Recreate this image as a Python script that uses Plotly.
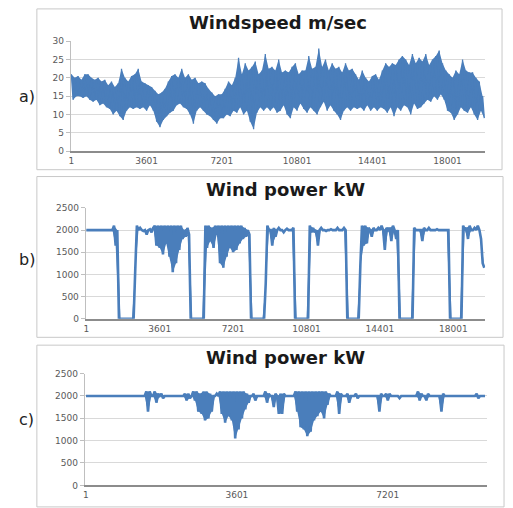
import plotly.graph_objects as go

W, H = 513, 508

# ---------------- data ----------------
# a) wind speed, one sample every 80 time steps (alternating peak / trough)
speed_step = 80
windspeed = [
    21, 14, 20, 15, 20.5, 15, 19.5, 14.5, 21, 15,
    21, 14, 20, 13.5, 19.5, 14, 20, 12.5, 19, 13,
    19.5, 12, 18, 11.5, 19, 10, 17.5, 11, 18.5, 9.5,
    22.5, 8.5, 20, 11, 19, 12, 20.5, 11.5, 21, 12,
    22.5, 11.5, 19, 12, 18.5, 11, 18, 12.5, 17.5, 11,
    16.5, 8, 15.5, 6.5, 16, 8.5, 17, 9.5, 19, 10.5,
    20.5, 11, 21, 12.5, 20, 13, 22.5, 12, 20, 11.5,
    21, 10, 19.5, 7.5, 20, 11, 18.5, 12, 19, 11,
    18.5, 10, 17, 9.5, 16, 8.5, 15, 7.5, 15.5, 9,
    15.5, 9, 17, 10, 19, 9.5, 18, 11, 20, 10.5,
    25.5, 12, 21, 10, 24, 11, 22, 8, 23, 6,
    24.5, 10.5, 21, 12, 22, 11, 26.5, 12, 22.5, 11,
    23, 12, 22, 10.5, 25, 11, 21.5, 12.5, 22, 10,
    21.5, 9, 23, 12, 24, 11, 21, 13, 22, 11.5,
    22, 10.5, 26, 12, 22.5, 11, 23, 10, 28, 12,
    23, 13.5, 25, 11, 22, 12.5, 24, 11, 22.5, 10,
    23, 8.5, 21.5, 11, 24, 12, 22, 11, 22.5, 12,
    21, 11.5, 19.5, 12, 22, 11, 20, 12.5, 19, 11,
    20.5, 12, 21, 11, 19.5, 12, 22, 11.5, 24, 10.5,
    23, 12, 24, 9.5, 23.5, 12, 25, 11, 26, 12.5,
    25, 12, 23.5, 10, 26.5, 13, 24, 11.5, 25.5, 12,
    24.5, 13, 26.5, 14, 23.5, 13.5, 25, 15, 26, 14,
    27.5, 15.5, 24, 14, 22, 11, 21, 10.5, 20, 8.5,
    22, 10, 21, 12, 25, 11, 22, 10.5, 21.5, 12,
    21.5, 10, 20, 8.5, 19, 11, 15, 9,
]

# b) wind power kW, one sample every 80 time steps
power_b_step = 80
power_b = [
    2000, 2000, 2000, 2000, 2000, 2000, 2000, 2000, 2000, 2000,
    2000, 2000, 2000, 2000, 2000, 2000, 2000,
    2100, 1650, 2000,
    0, 0, 0, 0, 0, 0, 0, 0, 0, 0,
    1100, 2100, 2000, 2050, 2000, 1980, 2000, 1900, 2000, 2020, 1950, 2050,
    2100, 1650, 2100, 1600, 2100, 1450, 2100, 1700, 2100, 1400,
    2100, 1050, 2100, 1250, 2100, 1550, 2100, 1800,
    2000, 1850, 2050, 1900,
    0, 0, 0, 0, 0, 0, 0, 0, 0,
    2100, 1600, 2100, 1750, 2050, 1600, 2100, 1900, 2100, 1250,
    2100, 1150, 2100, 1400, 2100, 1600, 2100, 1500, 2100, 1550,
    2100, 1700, 2100, 1800, 2050, 1850, 2000, 1900,
    0, 0, 0, 0, 0, 0, 0, 0, 0,
    800, 2100, 2000, 2000, 1650, 2050, 1850, 2000, 2050, 2000,
    2000, 1950, 2000, 2030, 2000, 2000, 2000, 2050,
    0, 0, 0, 0, 0, 0, 0, 0, 0,
    2100, 1950, 2050, 1950, 2000, 1650, 2000, 2050, 2000, 2000,
    1980, 2000, 2000, 2020, 2000, 2000, 2000, 2050, 2000, 2000,
    2000, 2050, 2000,
    0, 0, 0, 0, 0, 0, 0, 0,
    1200, 2100, 1650, 2100, 1700, 2050, 2000, 1850, 2050, 2000,
    2000, 2050, 2000, 2100, 2000, 1550, 2050, 2000, 2050, 1750,
    2100, 2000, 1800, 2000,
    0, 0, 0, 0, 0, 0, 0, 0, 0,
    2050, 2000, 2000, 2000, 2000, 1750, 2050, 2000, 2000, 2050,
    2000, 2000, 2000, 2000, 2020, 2000, 2000, 2000, 2000, 2000,
    2000, 2000,
    0, 0, 0, 0, 0, 0, 0, 0,
    2100, 2000, 2050, 1800, 2100, 2000, 2000, 2050, 2000, 2100,
    2000, 1800, 1250, 1150,
]

# c) wind power kW, one sample every 40 time steps
power_c_step = 40
power_c = [
    2000, 2000, 2000, 2000, 2000, 2000, 2000, 2000, 2000, 2000,
    2000, 2000, 2000, 2000, 2000, 2000, 2000, 2000, 2000, 2000,
    2000, 2000, 2000, 2000, 2000, 2000, 2000, 2000, 2000, 2000,
    2000, 2000, 2000, 2000, 2000, 2000,
    2100, 1650, 2100, 2000, 2000, 2100, 1850, 2050, 2000, 2050, 1950,
    2000, 2000, 2000, 2000, 2000, 2000, 2000, 2000, 2000, 2000, 2000, 2000,
    2050, 1900, 2050, 1950, 2000,
    2100, 1900, 2100, 1650, 2050,
    1600, 2100, 1450, 2100, 1500, 2050, 1650, 2000,
    2000, 2050, 2000,
    2100, 1600, 2100, 1400, 2100, 1550, 2100, 1450, 2100, 1050,
    2100, 1250, 2100, 1500, 2100, 1700, 2050, 1850,
    2000, 2000, 2050, 1900, 2000, 2000, 2000, 2000, 2000,
    2100, 1850, 2050, 2000, 2000,
    1750, 2050, 2000, 1600, 2050, 1600, 2050, 2000,
    2000, 2000, 2000, 2000, 2000,
    2100, 1650, 2100, 1300, 2100, 1250, 2100, 1100, 2100, 1200,
    2100, 1450, 2100, 1550, 2100, 1650, 2100, 1500, 2100, 1800, 2050,
    2000, 2000, 2000, 2000,
    2100, 1600, 2050, 2000, 2000, 2000, 2050, 1850, 2000, 2000, 2000,
    2050, 1950,
    2000, 2000, 2000, 2000, 2000, 2000, 2000, 2000, 2000, 2000, 2000, 2000,
    1650, 2050, 2000, 2000, 2050, 1900, 2050,
    2000, 2000, 2000, 2000, 2000, 1950, 2000,
    2000, 2000, 2000, 2000, 2000, 2000, 2000, 2000, 2000,
    2100, 1900, 2050, 2000, 2000, 1900, 2050,
    2000, 2000, 2000, 2000, 2000, 2000, 2000,
    1650, 2050,
    2000, 2000, 2000, 2000, 2000, 2000, 2000, 2000, 2000, 2000,
    2000, 2000, 2000, 2000, 2000, 2000, 2000, 2000, 2000,
    2050, 1950, 2000, 2000, 2000, 2000,
]

x_ticks_long = [1, 3601, 7201, 10801, 14401, 18001]
x_ticks_short = [1, 3601, 7201]
speed_ticks = [0, 5, 10, 15, 20, 25, 30]
power_ticks = [0, 500, 1000, 1500, 2000, 2500]
titles = ["Windspeed m/sec", "Wind power kW", "Wind power kW"]
panel_labels = ["a)", "b)", "c)"]

# ---------------- styling / layout ----------------
LINE = "#4a7ebb"
FONT = "DejaVu Sans"

def fx(px):
    return px / W

def fy(py):
    return 1 - py / H

series = [
    (windspeed, speed_step, 1.3),
    (power_b, power_b_step, 2.6),
    (power_c, power_c_step, 2.6),
]
# plot-area pixel boxes: (left, right, top(max value), bottom(zero))
areas = [(69, 485, 37, 149), (84, 485, 207, 320), (83, 487, 376, 490)]
x_ranges = [19800, 19560, 9570]
y_ranges = [30, 2500, 2500]
x_tickvals = [x_ticks_long, x_ticks_long, x_ticks_short]
y_tickvals = [speed_ticks, power_ticks, power_ticks]
boxes = [(35, 502, 4, 168), (35, 503, 175, 339), (35, 504, 347, 512)]
title_y = [18, 188, 360]
label_y = [93, 260, 423]

fig = go.Figure()
layout = dict(
    width=W, height=H, margin=dict(l=0, r=0, t=0, b=0),
    paper_bgcolor="white", plot_bgcolor="white", showlegend=False,
    font=dict(family=FONT, color="#595959"),
)
annotations = []
shapes = []

for i, (vals, step, lw) in enumerate(series):
    n = i + 1
    xa = "x" if n == 1 else f"x{n}"
    ya = "y" if n == 1 else f"y{n}"
    xs = [1 + step * k for k in range(len(vals))]
    # the dense band swept between successive samples (solid look of a
    # very densely sampled line)
    x_ev, y_ev = xs[0::2], vals[0::2]
    x_od, y_od = xs[1::2], vals[1::2]
    fig.add_trace(go.Scatter(
        x=x_ev + x_od[::-1], y=y_ev + y_od[::-1], mode="lines",
        fill="toself", fillcolor=LINE, line=dict(width=0, color=LINE),
        xaxis=xa, yaxis=ya, hoverinfo="skip",
    ))
    fig.add_trace(go.Scatter(
        x=xs, y=vals, mode="lines",
        line=dict(color=LINE, width=lw, simplify=False),
        xaxis=xa, yaxis=ya, hoverinfo="skip",
    ))
    l, r, t, b = areas[i]
    xkey = "xaxis" if n == 1 else f"xaxis{n}"
    ykey = "yaxis" if n == 1 else f"yaxis{n}"
    layout[xkey] = dict(
        domain=[fx(l), fx(r)], range=[-30, x_ranges[i]],
        anchor=ya,
        tickmode="array", tickvals=x_tickvals[i],
        ticktext=[str(v) for v in x_tickvals[i]],
        showgrid=False, zeroline=False,
        showline=True, linecolor="#8c8c8c", linewidth=2,
        ticks="", tickfont=dict(size=9, color="#595959", family=FONT),
    )
    layout[ykey] = dict(
        domain=[fy(b), fy(t)], range=[0, y_ranges[i]],
        anchor=xa,
        tickmode="array", tickvals=y_tickvals[i],
        showgrid=True, gridcolor="#d9d9d9", gridwidth=1,
        zeroline=False, showline=True, linecolor="#bfbfbf", linewidth=1,
        ticks="outside", ticklen=4, tickcolor="#bfbfbf",
        tickfont=dict(size=9, color="#595959", family=FONT),
    )
    bl, br, bt, bb = boxes[i]
    shapes.append(dict(
        type="rect", xref="paper", yref="paper",
        x0=fx(bl), x1=fx(br), y0=fy(bb), y1=fy(bt),
        line=dict(color="#c8c8c8", width=1), layer="below",
    ))
    annotations.append(dict(
        text=f"<b>{titles[i]}</b>", xref="paper", yref="paper",
        x=fx((l + r) / 2), y=fy(title_y[i]), xanchor="center", yanchor="middle",
        showarrow=False, font=dict(size=18, color="#1a1a1a", family=FONT),
    ))
    annotations.append(dict(
        text=panel_labels[i], xref="paper", yref="paper",
        x=fx(25), y=fy(label_y[i]), xanchor="center", yanchor="middle",
        showarrow=False, font=dict(size=16, color="#222222", family=FONT),
    ))

layout["annotations"] = annotations
layout["shapes"] = shapes
fig.update_layout(**layout)
fig.write_html(
    "out.html",
    config={"displayModeBar": False, "staticPlot": True},
    post_script="document.body.style.margin='0px';document.body.style.overflow='hidden';",
)
